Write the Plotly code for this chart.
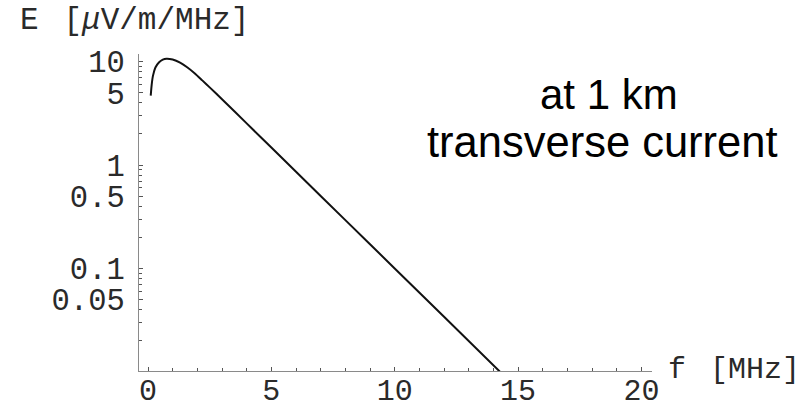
import plotly.graph_objects as go

# Spectrum of the radio pulse: field strength vs frequency
freq_mhz = [0.11, 0.15, 0.2, 0.3, 0.45, 0.6, 0.75, 1.0, 1.3, 1.6, 1.9, 2.2,
            2.5, 3.0, 4.0, 5.0, 6.0, 8.0, 10.0, 12.0, 14.3]
field_uv = [4.7, 6.0, 7.3, 8.8, 9.9, 10.5, 10.7, 10.5, 9.8, 8.8, 7.7, 6.6,
            5.65, 4.34, 2.53, 1.48, 0.86, 0.293, 0.0998, 0.034, 0.0098]

x_ticks = [0, 5, 10, 15, 20]
x_minor = [1, 2, 3, 4, 6, 7, 8, 9, 11, 12, 13, 14, 16, 17, 18, 19]
y_ticks = [10, 5, 1, 0.5, 0.1, 0.05]
y_labels = ["10", "5", "1", "0.5", "0.1", "0.05"]
y_minor = [0.02, 0.03, 0.04, 0.06, 0.07, 0.08, 0.09,
           0.2, 0.3, 0.4, 0.6, 0.7, 0.8, 0.9,
           2, 3, 4, 6, 7, 8, 9]

mono = "Liberation Mono, Courier New, monospace"
sans = "Liberation Sans, Arial, Helvetica, sans-serif"
axis_col = "#8a8a8a"
tick_col = "#555555"
label_col = "#2a2a2a"

fig = go.Figure()
fig.add_trace(go.Scatter(
    x=freq_mhz, y=field_uv, mode="lines",
    line=dict(color="#111111", width=2, shape="spline", smoothing=0.6),
    hoverinfo="skip", showlegend=False,
))

fig.update_layout(
    width=812, height=408,
    margin=dict(l=139, r=160, t=54, b=37, autoexpand=False),
    paper_bgcolor="white", plot_bgcolor="white",
    xaxis=dict(
        range=[-0.365, 20.43], showgrid=False, zeroline=False, automargin=False,
        showline=True, linecolor=axis_col, linewidth=1.3,
        tickmode="array", tickvals=x_ticks,
        ticks="inside", ticklen=4, tickwidth=1, tickcolor=tick_col,
        minor=dict(tickmode="array", tickvals=x_minor, ticks="inside",
                   ticklen=3, tickwidth=1, tickcolor=tick_col, showgrid=False),
        tickfont=dict(family=mono, size=30, color=label_col),
        ticklabelstandoff=-8,
    ),
    yaxis=dict(
        type="log", range=[-1.994, 1.075], showgrid=False, zeroline=False,
        automargin=False,
        showline=True, linecolor=axis_col, linewidth=1.3,
        tickmode="array", tickvals=y_ticks, ticktext=y_labels,
        ticks="inside", ticklen=4, tickwidth=1, tickcolor=tick_col,
        minor=dict(tickmode="array", tickvals=y_minor, ticks="inside",
                   ticklen=2.5, tickwidth=1, tickcolor=tick_col, showgrid=False),
        tickfont=dict(family=mono, size=30.5, color=label_col),
        ticklabelstandoff=7,
    ),
)

# Axis titles in Mathematica style
fig.add_annotation(text="E \u2009[<i>μ</i>V/m/MHz]", xref="paper", yref="paper",
                   x=-0.236, y=1.106, xanchor="left", yanchor="middle",
                   showarrow=False, font=dict(family=mono, size=31, color=label_col))
fig.add_annotation(text="f \u2009[MHz]", xref="paper", yref="paper",
                   x=1.0273, y=0.003, xanchor="left", yanchor="middle",
                   showarrow=False, font=dict(family=mono, size=30, color=label_col))

# Plot legend text
fig.add_annotation(text="at 1 km", xref="paper", yref="paper",
                   x=0.917, y=0.871, xanchor="center", yanchor="middle",
                   showarrow=False, font=dict(family=sans, size=42, color="black"))
fig.add_annotation(text="transverse current", xref="paper", yref="paper",
                   x=0.9035, y=0.722, xanchor="center", yanchor="middle",
                   showarrow=False, font=dict(family=sans, size=43.5, color="black"))

fig.write_html("out.html")
